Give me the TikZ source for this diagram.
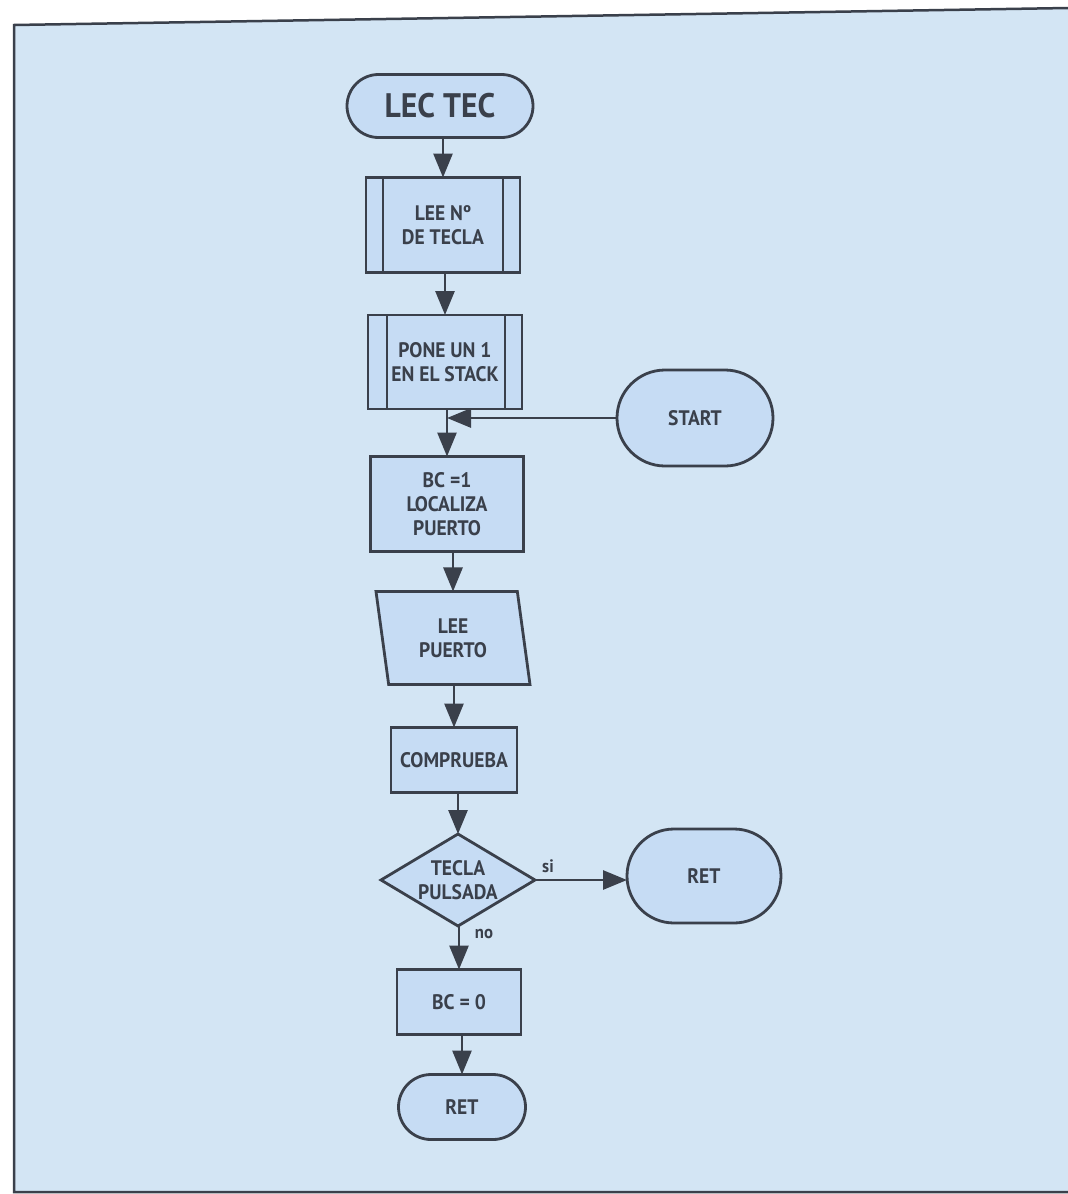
\documentclass[tikz,border=0pt]{standalone}
\usepackage{fontspec}
\setmainfont{PT Sans}[BoldFeatures={FakeStretch=0.93}]
\usetikzlibrary{arrows.meta,shapes.geometric,shapes.misc}
\definecolor{bg}{HTML}{D3E5F4}
\definecolor{nodefill}{HTML}{C6DCF4}
\definecolor{ink}{HTML}{3A404B}
\begin{document}
\begin{tikzpicture}[x=1pt,y=-1pt,
  base/.style={draw=ink, line width=2.8pt, fill=nodefill, text=ink, align=center,
    font=\fontsize{21}{24}\selectfont\bfseries, inner sep=0pt, outer sep=0pt},
  term/.style={base, rounded rectangle},
  proc/.style={base, rectangle},
  io/.style={base, trapezium, trapezium left angle=108, trapezium right angle=72, trapezium stretches body},
  dec/.style={base, diamond, aspect=1.67},
  sidebar/.style={draw=ink, line width=2.8pt},
  flow/.style={draw=ink, line width=2.8pt, -{Triangle[length=24pt,width=19pt]}},
  lbl/.style={text=ink, font=\fontsize{18}{20}\selectfont\bfseries}]
\useasboundingbox (0,0) rectangle (1068,1194);
\fill[white] (0,0) rectangle (1068,1194);
\fill[bg] (14,25) -- (1068,8) -- (1068,1192) -- (14,1192) -- cycle;
\draw[ink, line width=2.5pt] (1068,8) -- (14,25) -- (14,1192) -- (1068,1192);

\node[term, minimum width=186pt, minimum height=63pt, font=\fontsize{34}{36}\selectfont\bfseries] (lectec) at (440,106) {LEC TEC};
\node[proc, minimum width=154pt, minimum height=95pt] (leen) at (443,225) {LEE Nº\\DE TECLA};
\draw[sidebar] ([xshift=17pt]leen.north west) -- ([xshift=17pt]leen.south west);
\draw[sidebar] ([xshift=-17pt]leen.north east) -- ([xshift=-17pt]leen.south east);
\node[proc, minimum width=154pt, minimum height=94pt] (pone) at (445,362) {PONE UN 1\\EN EL STACK};
\draw[sidebar] ([xshift=19pt]pone.north west) -- ([xshift=19pt]pone.south west);
\draw[sidebar] ([xshift=-17pt]pone.north east) -- ([xshift=-17pt]pone.south east);
\node[term, minimum width=156pt, minimum height=96pt] (start) at (695,418) {START};
\node[proc, minimum width=153pt, minimum height=95pt] (bc1) at (447,504) {BC =1\\LOCALIZA\\PUERTO};
\node[io, minimum width=154pt, minimum height=93pt] (lee) at (453,638) {LEE\\PUERTO};
\node[proc, minimum width=126pt, minimum height=65pt] (comp) at (454,760) {COMPRUEBA};
\node[dec, minimum width=154pt, minimum height=92pt] (tecla) at (458,880) {TECLA\\PULSADA};
\node[term, minimum width=154pt, minimum height=94pt] (ret1) at (704,876) {RET};
\node[proc, minimum width=124pt, minimum height=65pt] (bc0) at (459,1002) {BC = 0};
\node[term, minimum width=127pt, minimum height=65pt] (ret2) at (462,1107) {RET};

\coordinate (j) at (bc1.north |- start.west);
\draw[flow] (leen.north |- lectec.south) -- (leen.north);
\draw[flow] (pone.north |- leen.south) -- (pone.north);
\draw[flow] (bc1.north |- pone.south) -- (bc1.north);
\draw[flow] (start.west) -- (j);
\draw[flow] (lee.north |- bc1.south) -- (lee.north);
\draw[flow] (comp.north |- lee.south) -- (comp.north);
\draw[flow] (tecla.north |- comp.south) -- (tecla.north);
\draw[flow] (tecla.east) -- (tecla.east -| ret1.west);
\draw[flow] (bc0.north |- tecla.south) -- (bc0.north);
\draw[flow] (ret2.north |- bc0.south) -- (ret2.north);
\node[lbl] (si) at (548,866) {si};
\node[lbl] (no) at (484,934) {no};
\end{tikzpicture}
\end{document}
